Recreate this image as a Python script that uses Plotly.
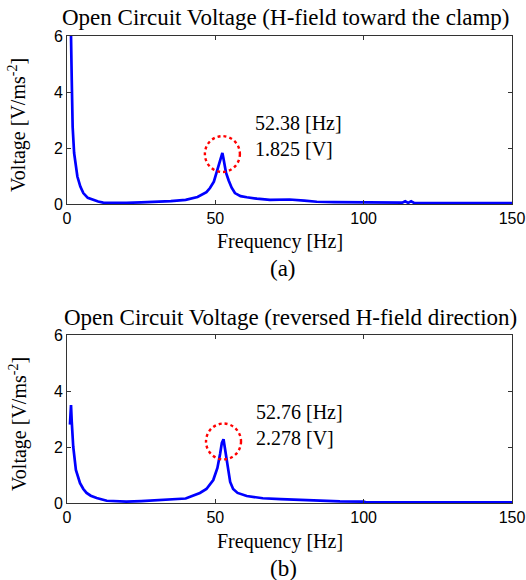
import plotly.graph_objects as go

# ---- data ----
freq_a = [0.5, 1.0, 1.35, 1.6, 1.9, 2.4, 3.0, 3.5, 4.5, 5.5, 7.0, 8.9, 10.5, 12.2, 15, 20, 25, 30, 35, 40, 44,
          47, 48.2, 49.5, 50.4, 51.2, 51.7, 52.1, 52.38, 52.7, 53.0, 53.6, 54.5, 55.5, 56.6, 58.5, 60.6, 61.7,
          64, 68.4, 72, 75, 80, 84.2, 90, 100, 110, 113, 114, 115, 116, 117, 118, 125, 135, 150]
volt_a = [7.5, 6.8, 6.0, 4.43, 2.76, 1.82, 1.3, 0.98, 0.62, 0.39, 0.22, 0.14, 0.09, 0.05, 0.04, 0.04, 0.06, 0.08,
          0.1, 0.15, 0.25, 0.42, 0.57, 0.8, 1.1, 1.4, 1.6, 1.75, 1.825, 1.65, 1.45, 1.12, 0.84, 0.58, 0.39, 0.28,
          0.24, 0.22, 0.19, 0.15, 0.16, 0.16, 0.12, 0.08, 0.07, 0.06, 0.06, 0.05, 0.1, 0.04, 0.1, 0.04, 0.03,
          0.03, 0.03, 0.03]

freq_b = [1.0, 1.2, 1.35, 1.6, 2.1, 3.0, 4.4, 5.5, 6.6, 8.0, 10.0, 13.4, 16, 20, 25, 30, 35, 40, 44.8, 47, 49.3,
          50.7, 51.6, 52.2, 52.76, 53.3, 53.9, 55.0, 56.0, 57.5, 60.6, 61.7, 66, 72, 78.5, 85, 92, 100, 101,
          110, 130, 150]
volt_b = [2.8, 3.1, 3.5, 2.9, 2.01, 1.18, 0.71, 0.5, 0.36, 0.26, 0.18, 0.08, 0.06, 0.05, 0.07, 0.1, 0.12, 0.16,
          0.36, 0.5, 0.82, 1.25, 1.75, 2.15, 2.278, 1.9, 1.35, 0.75, 0.5, 0.36, 0.25, 0.23, 0.17, 0.14, 0.11,
          0.08, 0.06, 0.05, 0.02, 0.02, 0.02, 0.02]

titles = ["Open Circuit Voltage (H-field toward the clamp)",
          "Open Circuit Voltage (reversed H-field direction)"]
peak_freqs = [52.38, 52.76]
peak_volts = [1.825, 2.278]
panel_labels = ["(a)", "(b)"]
x_ticks = [0, 50, 100, 150]
y_ticks = [0, 2, 4, 6]

SERIF = "Liberation Serif, Times New Roman, serif"
SANS = "Liberation Sans, Arial, sans-serif"

W, H = 526, 580


def px(X):
    return X / W


def py(Y):
    return 1 - Y / H


fig = go.Figure()
fig.add_trace(go.Scatter(x=freq_a, y=volt_a, mode="lines", line=dict(color="#0000FF", width=2.7),
                         xaxis="x", yaxis="y", showlegend=False))
fig.add_trace(go.Scatter(x=freq_b, y=volt_b, mode="lines", line=dict(color="#0000FF", width=2.7),
                         xaxis="x2", yaxis="y2", showlegend=False))

dom_x = [px(67), px(512)]
dom_y1 = [py(204), py(36)]
dom_y2 = [py(503), py(335)]

axis_common = dict(showline=True, linecolor="#333333", linewidth=1, mirror="ticks", ticks="inside",
                   ticklen=4, tickcolor="#333333", showgrid=False, zeroline=False,
                   ticklabeloverflow="allow", automargin=False,
                   tickfont=dict(family=SANS, size=16, color="black"))

fig.update_layout(
    width=W, height=H, margin=dict(l=0, r=0, t=0, b=0, autoexpand=False),
    plot_bgcolor="white", paper_bgcolor="white",
    xaxis=dict(domain=dom_x, anchor="y", range=[0, 150], tickvals=x_ticks, **axis_common),
    yaxis=dict(domain=dom_y1, anchor="x", range=[0, 6], tickvals=y_ticks, **axis_common),
    xaxis2=dict(domain=dom_x, anchor="y2", range=[0, 150], tickvals=x_ticks, **axis_common),
    yaxis2=dict(domain=dom_y2, anchor="x2", range=[0, 6], tickvals=y_ticks, **axis_common),
)

annots = []
shapes = []
# (y-domain, xref, yref, title x, title y, x-title y, y-title y, label y, text y-offset, circle y-offset)
rows = [(dom_y1, "x", "y", 286, 17, 241, 125, 268, 0.62, -0.04),
        (dom_y2, "x2", "y2", 290, 317, 541, 424, 568, 0.50, -0.08)]
for i, (dy, xa, ya, tx, ty, xty, yty, ly, toff, coff) in enumerate(rows):
    annots.append(dict(text=titles[i], xref="paper", yref="paper", x=px(tx), y=py(ty),
                       xanchor="center", yanchor="middle", showarrow=False,
                       font=dict(family=SERIF, size=23, color="black")))
    annots.append(dict(text="Frequency [Hz]", xref="paper", yref="paper", x=px(280), y=py(xty),
                       xanchor="center", yanchor="middle", showarrow=False,
                       font=dict(family=SERIF, size=20, color="black")))
    annots.append(dict(text="Voltage [V/ms<sup>-2</sup>]", xref="paper", yref="paper", x=px(18),
                       y=py(yty), textangle=-90, xanchor="center", yanchor="middle",
                       showarrow=False, font=dict(family=SERIF, size=20, color="black")))
    annots.append(dict(text=panel_labels[i], xref="paper", yref="paper", x=px(283), y=py(ly),
                       xanchor="center", yanchor="middle", showarrow=False,
                       font=dict(family=SERIF, size=23, color="black")))
    pf, pv = peak_freqs[i], peak_volts[i]
    annots.append(dict(text=f"{pf:.2f} [Hz]<br>{pv:.3f} [V]", xref=xa, yref=ya, x=pf + 10.2, y=pv + toff,
                       xanchor="left", yanchor="middle", align="left", showarrow=False,
                       font=dict(family=SERIF, size=20, color="black")))
    shapes.append(dict(type="circle", xref=xa, yref=ya, x0=pf - 5.9, x1=pf + 5.9,
                       y0=pv + coff - 0.64, y1=pv + coff + 0.64,
                       line=dict(color="red", width=2.4, dash="dot")))

fig.update_layout(annotations=annots, shapes=shapes)
fig.write_html("out.html", config={"displayModeBar": False},
               post_script="document.body.style.margin='0';document.body.style.overflow='hidden';")
